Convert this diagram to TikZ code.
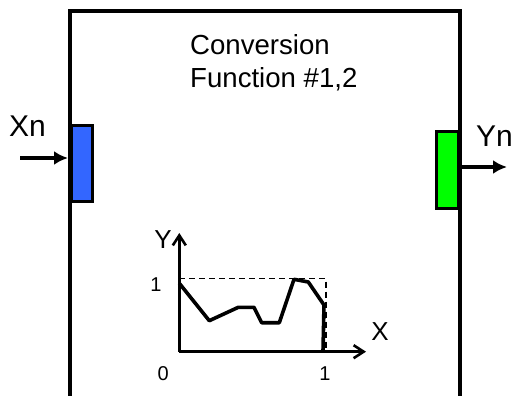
\documentclass[tikz,border=0pt]{standalone}
\usepackage{fontspec}
\setmainfont{Liberation Sans}
\usetikzlibrary{arrows.meta,positioning,calc}
\definecolor{portblue}{RGB}{51,102,255}
\definecolor{portgreen}{RGB}{0,255,0}
\tikzset{
  port/.style={draw=black, line width=3.2pt, inner sep=0pt},
  biglabel/.style={inner sep=0pt, font=\fontsize{30}{33}\selectfont},
  titlelabel/.style={inner sep=0pt, font=\fontsize{27.6}{33}\selectfont},
  axislabel/.style={inner sep=0pt, font=\fontsize{26}{30}\selectfont},
  ticklabel/.style={inner sep=0pt, font=\fontsize{20}{23}\selectfont},
  portarrow/.style={line width=3.5pt, -{Latex[length=14pt,width=14pt]}},
  axisarrow/.style={line width=2.6pt, -{Straight Barb[length=10pt,width=13pt]}},
}
\begin{document}
\begin{tikzpicture}[x=1pt, y=-1pt]
  \useasboundingbox (0,0) rectangle (512,396);

  % 変換ブロック
  \node[draw, line width=4pt, inner sep=0pt, minimum width=390pt, minimum height=389pt, anchor=north west]
    (unit) at (68,9) {};
  \node[titlelabel, anchor=base west] (title) at (190,54.3) {Conversion};
  \node[titlelabel, anchor=base west] (title2) at (190,87.6) {Function \#1,2};

  % 入出力ポート
  \node[port, fill=portblue, minimum width=20.5pt, minimum height=75.5pt, anchor=north west]
    (inport) at (70,124) {};
  \node[port, fill=portgreen, minimum width=22pt, minimum height=76.5pt, anchor=north west]
    (outport) at (435,130) {};
  \coordinate (xin) at (20,158);
  \coordinate (yout) at (507,167);
  \draw[portarrow] (xin) -- (xin -| unit.west);
  \draw[portarrow] (yout -| unit.east) -- (yout);
  \node[biglabel, anchor=base west] (xlabel) at (9,136.7) {Xn};
  \node[biglabel, anchor=base west] (ylabel) at (476,146.7) {Yn};

  % 特性グラフ
  \coordinate (o) at (179.3,351.7);
  \coordinate (xtip) at (366,351.7);
  \coordinate (ytip) at (179.3,233);
  \coordinate (corner) at (326,278.3);
  \draw[axisarrow] (o) -- (xtip);
  \draw[axisarrow] (o) -- (ytip);
  \draw[line width=1.4pt, dash pattern=on 6pt off 4pt] (o |- corner) -- (corner) -- (corner |- o);
  \draw[line width=3.6pt, line join=round]
    (179.3,283.3) -- (209.3,320.7) -- (238.3,307.3) -- (254,307.3) -- (261.7,322.7)
    -- (279.3,322.7) -- (294,279.3) -- (308.3,282) -- (324,305) -- (323,351);
  \node[axislabel, anchor=base] (ylab) at (163,248.3) {Y};
  \node[axislabel, anchor=base] (xlab) at (380,340.7) {X};
  \node[ticklabel, anchor=base] (one) at (156,291.7) {1};
  \node[ticklabel, anchor=base] (zero) at (163.3,380.7) {0};
  \node[ticklabel, anchor=base] (xone) at (325,380.7) {1};
\end{tikzpicture}
\end{document}
